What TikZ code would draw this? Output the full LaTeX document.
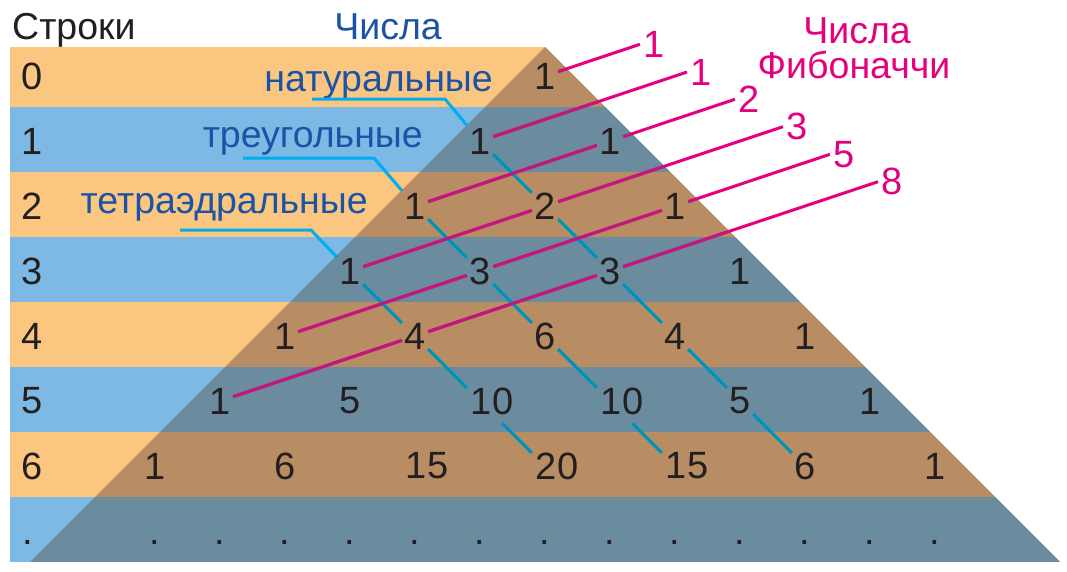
\documentclass[tikz,border=0pt]{standalone}
\usepackage{fontspec}
\setmainfont{Liberation Sans}
\definecolor{lor}{HTML}{FBC780}
\definecolor{lbl}{HTML}{7DB9E4}
\definecolor{dor}{HTML}{B88D63}
\definecolor{dbl}{HTML}{6B8C9F}
\definecolor{ink}{HTML}{231F20}
\definecolor{wordblue}{HTML}{1B54A6}
\definecolor{fibbright}{HTML}{E6007E}
\definecolor{fibdark}{HTML}{C0187C}
\definecolor{natbright}{HTML}{00AEEF}
\definecolor{natdark}{HTML}{0093B5}
\colorlet{fibcol}{fibbright}
\colorlet{natcol}{natbright}
\newcommand\numfont{\fontsize{38}{42}\selectfont}
\newcommand\wordfont{\fontsize{37.5}{42}\selectfont}
\newcommand\twodig[1]{\makebox[0pt]{\hspace{24pt}#1}}
\newcommand\stripes[2]{%
  \foreach \t/\b/\c in {47/107/#1,107/172/#2,172/237/#1,237/302/#2,302/367/#1,367/432/#2,432/497/#1,497/562/#2}
    {\fill[\c] (0,\t) rectangle (1067,\b);}}
\newcommand\connectors{%
  \draw[con,natcol] (natA) -- (natB) -- (n10) -- (n21) -- (n32) -- (n43) -- (n54) -- (n65);
  \draw[con,natcol] (triA) -- (triB) -- (n20) -- (n31) -- (n42) -- (n53);
  \draw[con,natcol,shorten <=13pt] (n53) -- (n64);
  \draw[con,natcol] (tetA) -- (tetB) -- (n30) -- (n41) -- (n52);
  \draw[con,natcol,shorten <=13pt] (n52) -- (n63);
  \draw[con,fibcol] (n00) -- (f0);
  \draw[con,fibcol] (n10) -- (f1);
  \draw[con,fibcol] (n20) -- (n11) -- (f2);
  \draw[con,fibcol] (n30) -- (n21) -- (f3);
  \draw[con,fibcol] (n40) -- (n31) -- (n22) -- (f4);
  \draw[con,fibcol] (n50) -- (n41) -- (n32) -- (f5);}
\begin{document}
\begin{tikzpicture}[x=1pt,y=-1pt,
  num/.style={rectangle,inner sep=0pt,minimum width=26pt,minimum height=32pt,font=\numfont,text=ink},
  word/.style={inner sep=0pt,font=\wordfont},
  fiblabel/.style={inner sep=0pt,font=\numfont,text=fibbright,anchor=west,xshift=3pt},
  con/.style={line width=3pt}]
\useasboundingbox (0,0) rectangle (1067,571);
% background stripes
\begin{scope}
  \clip (10,47) -- (545,47) -- (1060,562) -- (10,562) -- cycle;
  \stripes{lor}{lbl}
\end{scope}
\begin{scope}
  \clip (545,47) -- (1060,562) -- (30,562) -- cycle;
  \stripes{dor}{dbl}
\end{scope}
% headings
\node[word,anchor=base west,text=ink] (rows) at (12,39) {Строки};
\node[word,anchor=base,text=wordblue] (numhead) at (388,39) {Числа};
\node[word,anchor=base,text=fibbright] (fibhead1) at (857,43) {Числа};
\node[word,anchor=base,text=fibbright] (fibhead2) at (854,78) {Фибоначчи};
\node[word,anchor=base east,text=wordblue] (natw) at (493,91) {натуральные};
\node[word,anchor=base east,text=wordblue] (triw) at (423,147) {треугольные};
\node[word,anchor=base east,text=wordblue] (tetw) at (368,213) {тетраэдральные};
% row labels
\foreach \k in {0,...,6} {\node[num] (r\k) at (32,76+65*\k) {\k};}
\node[num,anchor=base] (r7) at (28,544) {.};
% Pascal numbers
\node[num] (n00) at (545,76) {1};
\node[num] (n10) at (480,141) {1};
\node[num] (n11) at (610,141) {1};
\node[num] (n20) at (415,206) {1};
\node[num] (n21) at (545,206) {2};
\node[num] (n22) at (675,206) {1};
\node[num] (n30) at (350,271) {1};
\node[num] (n31) at (480,271) {3};
\node[num] (n32) at (610,271) {3};
\node[num] (n33) at (740,271) {1};
\node[num] (n40) at (285,336) {1};
\node[num] (n41) at (415,336) {4};
\node[num] (n42) at (545,336) {6};
\node[num] (n43) at (675,336) {4};
\node[num] (n44) at (805,336) {1};
\node[num] (n50) at (220,401) {1};
\node[num] (n51) at (350,401) {5};
\node[num] (n52) at (480,401) {\twodig{10}};
\node[num] (n53) at (610,401) {\twodig{10}};
\node[num] (n54) at (740,401) {5};
\node[num] (n55) at (870,401) {1};
\node[num] (n60) at (155,466) {1};
\node[num] (n61) at (285,466) {6};
\node[num] (n62) at (415,466) {\twodig{15}};
\node[num] (n63) at (545,466) {\twodig{20}};
\node[num] (n64) at (675,466) {\twodig{15}};
\node[num] (n65) at (805,466) {6};
\node[num] (n66) at (935,466) {1};
\foreach \m in {-6,...,6} {\node[num,anchor=base] (d\m) at (545+65*\m,544) {.};}
% leader corners and free ends
\coordinate (natA) at (312,99);
\coordinate (natB) at (445,99);
\coordinate (triA) at (243,158);
\coordinate (triB) at (374,158);
\coordinate (tetA) at (180,230);
\coordinate (tetB) at (311,230);
\coordinate (f0) at (640,44.3);
\coordinate (f1) at (687,72);
\coordinate (f2) at (735,99.3);
\coordinate (f3) at (783,126.7);
\coordinate (f4) at (830,154.3);
\coordinate (f5) at (878,181.7);
\node[fiblabel] (l0) at (f0) {1};
\node[fiblabel] (l1) at (f1) {1};
\node[fiblabel] (l2) at (f2) {2};
\node[fiblabel] (l3) at (f3) {3};
\node[fiblabel] (l4) at (f4) {5};
\node[fiblabel] (l5) at (f5) {8};
% connectors: bright outside the triangle, darker inside
\connectors
\begin{scope}
  \clip (545,47) -- (1060,562) -- (30,562) -- cycle;
  \colorlet{fibcol}{fibdark}\colorlet{natcol}{natdark}
  \connectors
\end{scope}
\end{tikzpicture}
\end{document}
